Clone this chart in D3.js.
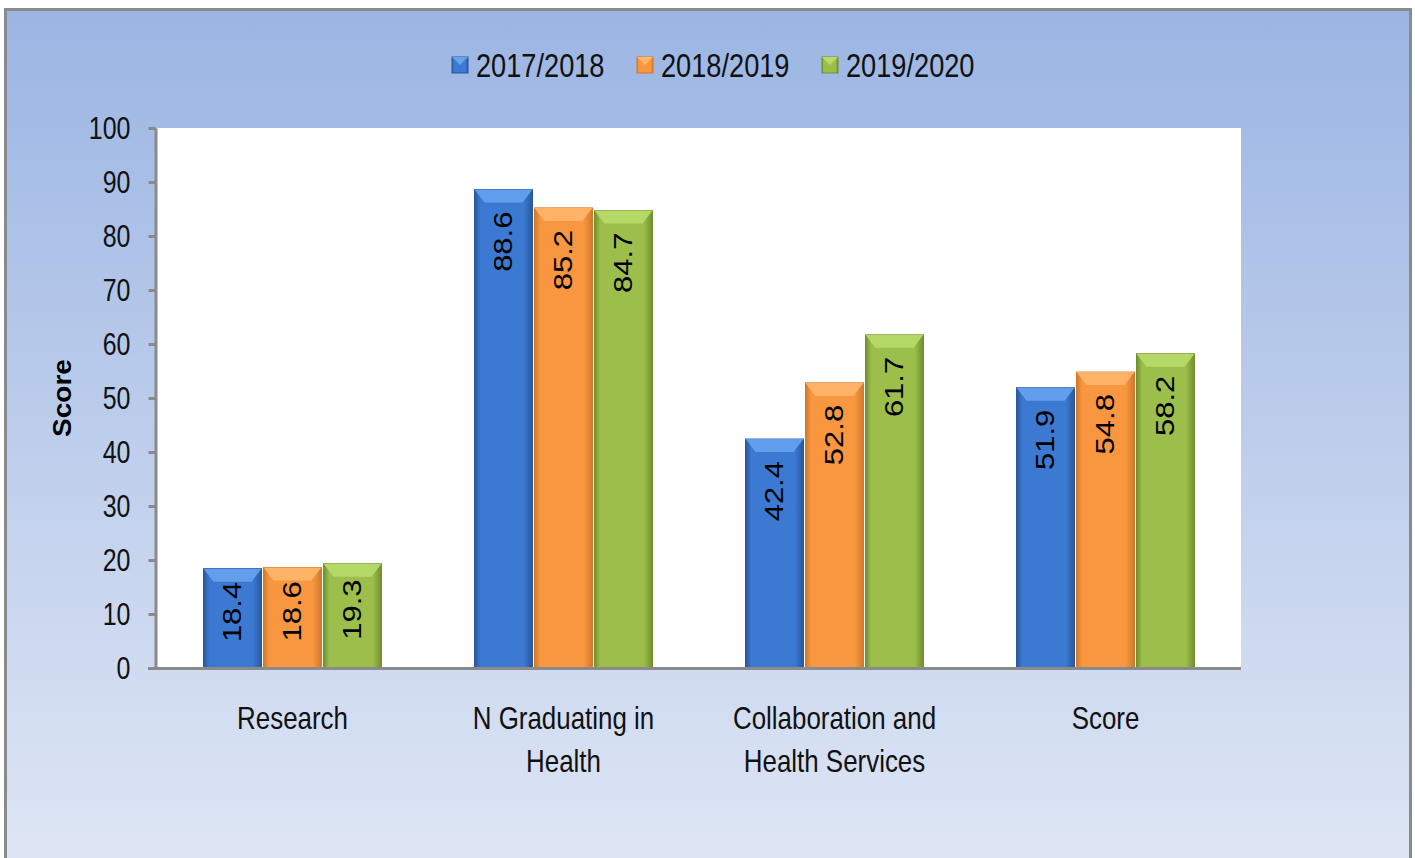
<!DOCTYPE html>
<html>
<head>
<meta charset="utf-8">
<script src="https://cdn.jsdelivr.net/npm/d3@7"></script>
<style>
  body { margin: 0; background: #fff; }
  svg { display: block; }
  text { font-family: "Liberation Sans", Arial, sans-serif; }
</style>
</head>
<body>
<svg width="1415" height="858"></svg>
<script>
const categories = ["Research", "N Graduating in Health", "Collaboration and Health Services", "Score"];
const categoryLines = [["Research"], ["N Graduating in", "Health"], ["Collaboration and", "Health Services"], ["Score"]];
const seriesNames = ["2017/2018", "2018/2019", "2019/2020"];
const values2017 = [18.4, 88.6, 42.4, 51.9];
const values2018 = [18.6, 85.2, 52.8, 54.8];
const values2019 = [19.3, 84.7, 61.7, 58.2];
const yTicks = [0, 10, 20, 30, 40, 50, 60, 70, 80, 90, 100];

const palette = [
  { main: "#3b79d2", light: "#66a2ee", dark: "#2a579a" },
  { main: "#f8973f", light: "#ffb66a", dark: "#d2782c" },
  { main: "#9bbf4a", light: "#b8db6a", dark: "#718f30" }
];

// the whole picture looks squeezed sideways, so text is drawn narrowed
const squeeze = 0.78;
const catSqueeze = 0.81;

const svg = d3.select("svg");
const plot = { left: 157, right: 1241, top: 128, bottom: 668 };

const table = categories.map((c, i) => ({
  cat: c,
  vals: [values2017[i], values2018[i], values2019[i]]
}));

const defs = svg.append("defs");
const bg = defs.append("linearGradient").attr("id", "bg")
  .attr("x1", 0).attr("y1", 0).attr("x2", 0).attr("y2", 1);
bg.append("stop").attr("offset", "0%").attr("stop-color", "#9bb5e3");
bg.append("stop").attr("offset", "100%").attr("stop-color", "#e0e7f5");

palette.forEach((p, i) => {
  const g = defs.append("linearGradient").attr("id", "bar" + i)
    .attr("x1", 0).attr("y1", 0).attr("x2", 1).attr("y2", 0);
  g.append("stop").attr("offset", "0%").attr("stop-color", p.dark);
  g.append("stop").attr("offset", "10%").attr("stop-color", p.main);
  g.append("stop").attr("offset", "85%").attr("stop-color", p.main);
  g.append("stop").attr("offset", "100%").attr("stop-color", p.dark);
});

svg.append("rect")
  .attr("x", 5.5).attr("y", 9.5).attr("width", 1405).attr("height", 870)
  .attr("fill", "url(#bg)")
  .attr("stroke", "#8a8a8a").attr("stroke-width", 3);

svg.append("rect")
  .attr("x", plot.left).attr("y", plot.top)
  .attr("width", plot.right - plot.left).attr("height", plot.bottom - plot.top)
  .attr("fill", "#fff");

const x0 = d3.scaleBand().domain(categories)
  .range([plot.left, plot.right]).paddingInner(0.336).paddingOuter(0.168);
const x1 = d3.scaleBand().domain(d3.range(seriesNames.length))
  .range([0, x0.bandwidth()]).padding(0);
const y = d3.scaleLinear().domain([0, 100]).range([plot.bottom, plot.top]);

// bars
const groups = svg.append("g").selectAll("g")
  .data(table).join("g")
  .attr("transform", d => `translate(${x0(d.cat)},0)`);

const bars = groups.selectAll("g")
  .data(d => d.vals.map((v, i) => ({ v, i })))
  .join("g");

bars.append("rect")
  .attr("x", d => x1(d.i) + 1)
  .attr("y", d => y(d.v))
  .attr("width", x1.bandwidth() - 2)
  .attr("height", d => y(0) - y(d.v))
  .attr("fill", d => `url(#bar${d.i})`)
  .attr("stroke", d => palette[d.i].dark)
  .attr("stroke-width", 1);

// top bevel
bars.append("path")
  .attr("d", d => {
    const a = x1(d.i) + 1, b = a + x1.bandwidth() - 2, t = y(d.v);
    return `M${a},${t}L${b},${t}L${b - 10},${t + 13}L${a + 10},${t + 13}Z`;
  })
  .attr("fill", d => palette[d.i].light)
  .attr("opacity", 0.9);

// data labels, inside end, pulled down less on short bars
const labelLen = 61;
bars.append("text")
  .attr("transform", d => {
    const h = y(0) - y(d.v);
    const off = Math.min(22, (h - labelLen) / 2 - 6);
    return `translate(${x1(d.i) + x1.bandwidth() / 2},${y(d.v) + off}) scale(0.82,1) rotate(-90)`;
  })
  .attr("text-anchor", "end")
  .attr("dominant-baseline", "central")
  .attr("font-size", 31)
  .attr("fill", "#000")
  .text(d => d.v.toFixed(1));

// y axis
const yAxis = svg.append("g")
  .attr("transform", `translate(${plot.left - 1.5},0)`)
  .call(d3.axisLeft(y).tickValues(yTicks).tickSize(7).tickSizeOuter(0).tickPadding(18));
yAxis.select(".domain").attr("stroke", "#8a8a8a").attr("stroke-width", 3);
yAxis.selectAll(".tick line").attr("stroke", "#8a8a8a").attr("stroke-width", 3);
yAxis.selectAll(".tick text")
  .attr("x", -25 / squeeze)
  .attr("transform", `scale(${squeeze},1)`)
  .attr("font-family", "'Liberation Sans', Arial, sans-serif")
  .attr("font-size", 32)
  .attr("fill", "#111");

// x axis
const xAxis = svg.append("g")
  .attr("transform", `translate(0,${plot.bottom})`)
  .call(d3.axisBottom(x0).tickSize(0).tickFormat(""));
xAxis.select(".domain").remove();
xAxis.append("line")
  .attr("x1", plot.left - 9).attr("x2", plot.right)
  .attr("y1", 0.5).attr("y2", 0.5)
  .attr("stroke", "#8a8a8a").attr("stroke-width", 3);

svg.append("g").selectAll("text")
  .data(categories).join("text")
  .attr("transform", d => `translate(${x0(d) + x0.bandwidth() / 2},729) scale(${catSqueeze},1)`)
  .attr("text-anchor", "middle")
  .attr("font-size", 32)
  .attr("fill", "#111")
  .selectAll("tspan")
  .data((d, i) => categoryLines[i])
  .join("tspan")
  .attr("x", 0)
  .attr("dy", (d, i) => i === 0 ? 0 : 43)
  .text(d => d);

// axis title
svg.append("text")
  .attr("transform", `translate(62,${(plot.top + plot.bottom) / 2}) scale(0.9,1) rotate(-90)`)
  .attr("text-anchor", "middle")
  .attr("dominant-baseline", "central")
  .attr("font-weight", "bold")
  .attr("font-size", 28)
  .attr("fill", "#000")
  .text("Score");

// legend
const legend = svg.append("g").selectAll("g")
  .data(seriesNames).join("g")
  .attr("transform", (d, i) => `translate(${452 + i * 185},65)`);
legend.append("rect")
  .attr("x", 0).attr("y", -8).attr("width", 16).attr("height", 16)
  .attr("fill", (d, i) => `url(#bar${i})`)
  .attr("stroke", (d, i) => palette[i].dark);
legend.append("path")
  .attr("d", "M0,-8L16,-8L8,0Z")
  .attr("fill", (d, i) => palette[i].light);
legend.append("text")
  .attr("transform", `translate(24,0) scale(0.8,1)`)
  .attr("dominant-baseline", "central")
  .attr("font-size", 34)
  .attr("fill", "#111")
  .text(d => d);
</script>
</body>
</html>
